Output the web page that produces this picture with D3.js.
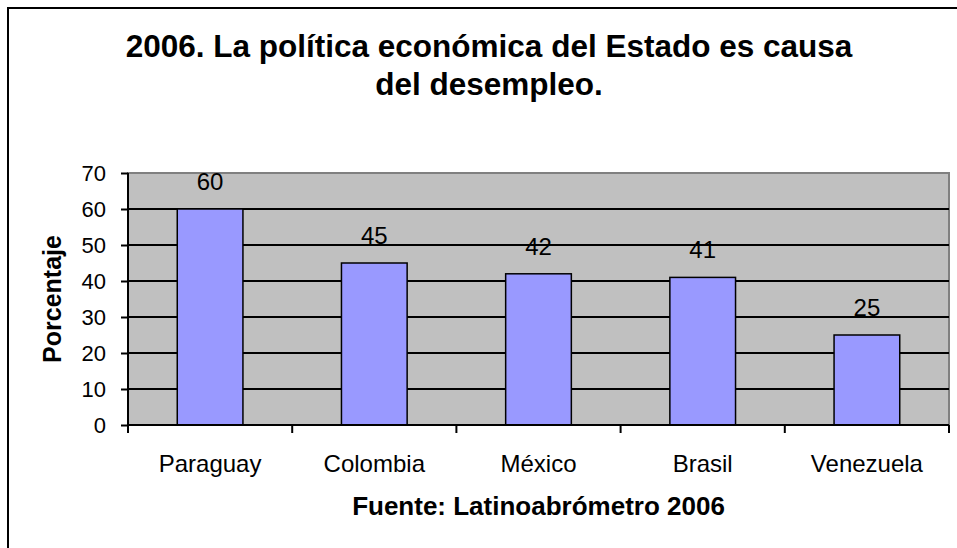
<!DOCTYPE html>
<html>
<head>
<meta charset="utf-8">
<script src="https://cdn.jsdelivr.net/npm/d3@7"></script>
<style>
  html, body { margin: 0; padding: 0; background: #fff; }
  svg { display: block; font-family: Arial, "Liberation Sans", sans-serif; }
</style>
</head>
<body>
<div id="chart"></div>
<script>
// data
const countries = ["Paraguay", "Colombia", "México", "Brasil", "Venezuela"];
const values = [60, 45, 42, 41, 25];
const yTicks = [0, 10, 20, 30, 40, 50, 60, 70];
const titleLines = ["2006. La política económica del Estado es causa", "del desempleo."];

const width = 957, height = 548;
const plot = {left: 128, right: 949, top: 173, bottom: 425};

const svg = d3.select("#chart").append("svg")
    .attr("width", width)
    .attr("height", height);

svg.append("rect").attr("width", width).attr("height", height).attr("fill", "#fff");

// chart area border (runs past right/bottom edges)
svg.append("rect")
    .attr("x", 8).attr("y", 8)
    .attr("width", width + 20).attr("height", height + 20)
    .attr("fill", "none").attr("stroke", "#000").attr("stroke-width", 2);

const x = d3.scaleBand()
    .domain(countries)
    .range([plot.left, plot.right])
    .paddingInner(0.6)
    .paddingOuter(0.3);

const y = d3.scaleLinear()
    .domain([0, 70])
    .range([plot.bottom, plot.top]);

// plot area
svg.append("rect")
    .attr("x", plot.left).attr("y", plot.top)
    .attr("width", plot.right - plot.left).attr("height", plot.bottom - plot.top)
    .attr("fill", "#c0c0c0")
    .attr("stroke", "#808080").attr("stroke-width", 2);

// gridlines
svg.append("g")
    .selectAll("line")
    .data(yTicks.filter(d => d > 0 && d < 70))
    .enter().append("line")
    .attr("x1", plot.left).attr("x2", plot.right)
    .attr("y1", d => y(d)).attr("y2", d => y(d))
    .attr("stroke", "#000").attr("stroke-width", 2);

// bars
svg.append("g")
    .selectAll("rect")
    .data(values)
    .enter().append("rect")
    .attr("x", (d, i) => x(countries[i]))
    .attr("y", d => y(d))
    .attr("width", x.bandwidth())
    .attr("height", d => y(0) - y(d))
    .attr("fill", "#9999ff")
    .attr("stroke", "#000").attr("stroke-width", 1.5);

// value labels
svg.append("g")
    .attr("text-anchor", "middle")
    .style("font-size", "24px")
    .selectAll("text")
    .data(values)
    .enter().append("text")
    .attr("x", (d, i) => x(countries[i]) + x.bandwidth() / 2)
    .attr("y", d => y(d) - 19)
    .text(d => d);

// y axis
const yAxis = svg.append("g")
    .attr("transform", `translate(${plot.left},0)`)
    .call(d3.axisLeft(y).tickValues(yTicks).tickSize(7).tickPadding(15));
yAxis.select(".domain").attr("stroke", "#000").attr("stroke-width", 2).attr("d", `M0,${plot.top}V${plot.bottom}`);
yAxis.selectAll(".tick line").attr("stroke", "#000").attr("stroke-width", 2);
yAxis.selectAll(".tick text").attr("fill", "#000").style("font-size", "22px")
    .style("font-family", "Arial, 'Liberation Sans', sans-serif").attr("dy", "0.35em");

// x axis with ticks on category boundaries
const boundaries = d3.range(countries.length + 1).map(i => plot.left + i * (plot.right - plot.left) / countries.length);
const xAxis = svg.append("g");
xAxis.append("line")
    .attr("x1", plot.left).attr("x2", plot.right)
    .attr("y1", plot.bottom).attr("y2", plot.bottom)
    .attr("stroke", "#000").attr("stroke-width", 2);
xAxis.selectAll(".tick")
    .data(boundaries)
    .enter().append("line")
    .attr("x1", d => d).attr("x2", d => d)
    .attr("y1", plot.bottom).attr("y2", plot.bottom + 8)
    .attr("stroke", "#000").attr("stroke-width", 2);
xAxis.selectAll("text")
    .data(countries)
    .enter().append("text")
    .attr("x", d => x(d) + x.bandwidth() / 2)
    .attr("y", 472)
    .attr("text-anchor", "middle")
    .style("font-size", "24px")
    .text(d => d);

// titles
svg.append("g")
    .attr("text-anchor", "middle")
    .style("font-size", "31.5px")
    .style("font-weight", "bold")
    .selectAll("text")
    .data(titleLines)
    .enter().append("text")
    .attr("x", 489)
    .attr("y", (d, i) => 57 + i * 38)
    .text(d => d);

svg.append("text")
    .attr("x", (plot.left + plot.right) / 2)
    .attr("y", 515)
    .attr("text-anchor", "middle")
    .style("font-size", "26px")
    .style("font-weight", "bold")
    .text("Fuente: Latinoabrómetro 2006");

svg.append("text")
    .attr("transform", `translate(61,${(plot.top + plot.bottom) / 2}) rotate(-90)`)
    .attr("text-anchor", "middle")
    .style("font-size", "25px")
    .style("font-weight", "bold")
    .text("Porcentaje");
</script>
</body>
</html>
